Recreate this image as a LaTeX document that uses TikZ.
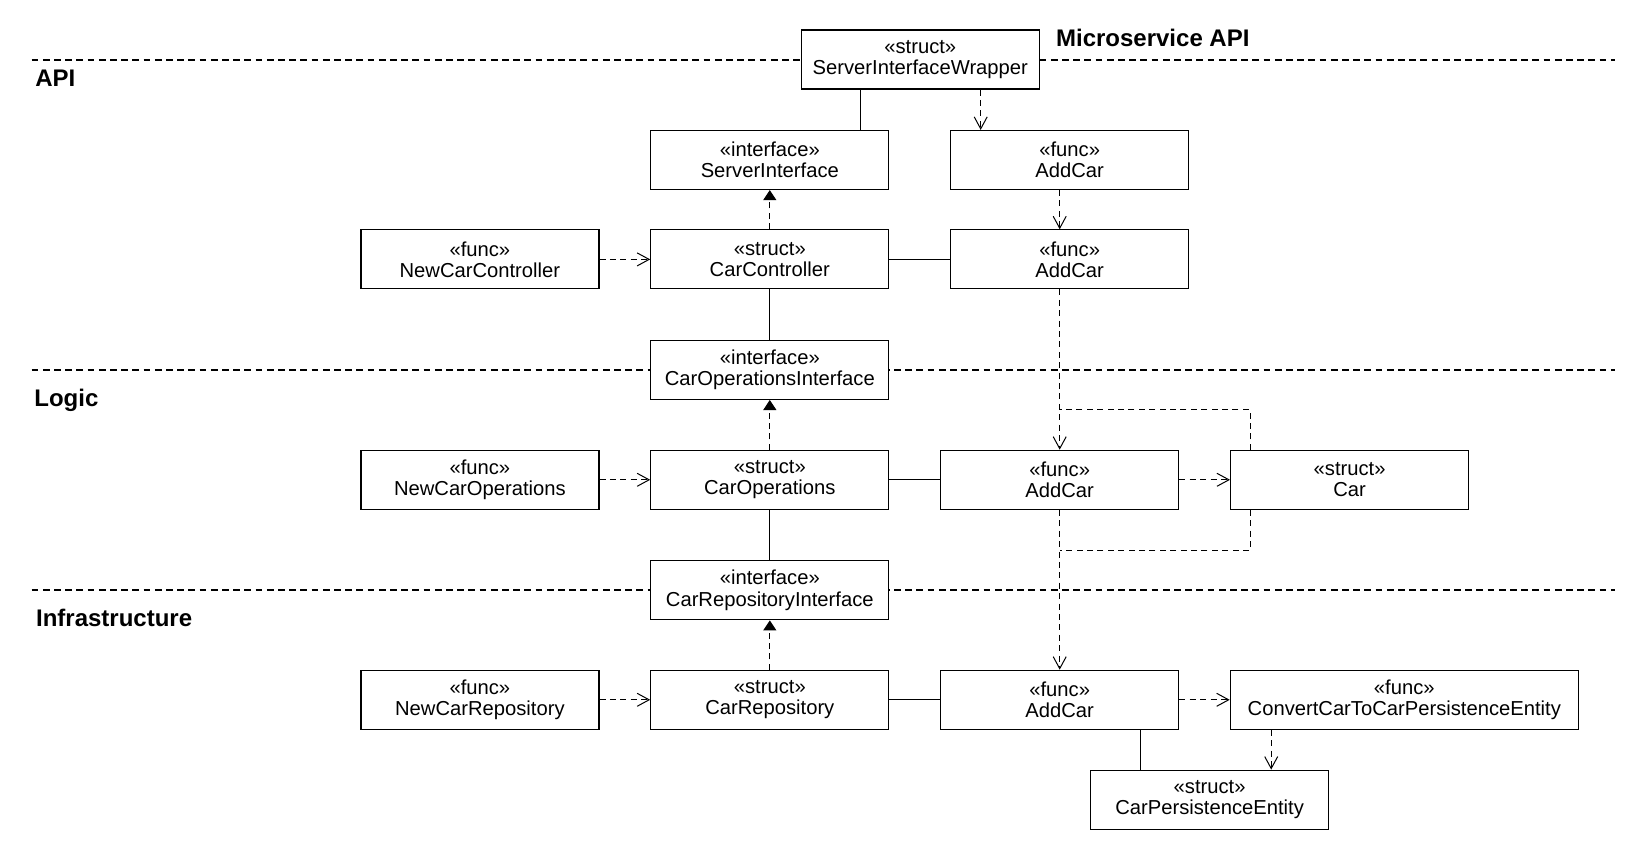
\documentclass[tikz,border=0pt]{standalone}
\usepackage{fontspec}
\setmainfont{Liberation Sans}
\usetikzlibrary{arrows.meta}

\tikzset{
  box/.style={draw, line width=0.6pt, fill=white, minimum width=119pt,
    minimum height=29.5pt, inner sep=0pt, align=center,
    font=\fontsize{10.1}{10.6}\selectfont},
  widebox/.style={box, minimum width=174pt},
  lane/.style={line width=1pt, dash pattern=on 3.4pt off 2.2pt},
  layer/.style={font=\fontsize{12}{14}\selectfont\bfseries, anchor=base west, inner sep=0pt},
  assoc/.style={line width=0.55pt},
  depline/.style={line width=0.5pt, dash pattern=on 3pt off 2.2pt},
  dep/.style={depline, -{Straight Barb[length=6pt,width=6.5pt]}},
  real/.style={depline, -{Triangle[length=5pt,width=6.5pt]}}
}

\begin{document}
\begin{tikzpicture}[x=0.5pt,y=-0.5pt]
\useasboundingbox (0,0) rectangle (1650,850);

% layer separators
\draw[lane] (31.6,60) -- (1615,60);
\draw[lane] (31.6,370.4) -- (1615,370.4);
\draw[lane] (31.6,590.3) -- (1615,590.3);

% layer titles
\node[layer] (tms) at (1055.7,46.7) {Microservice API};
\node[layer] (tapi) at (35,86.7) {API};
\node[layer] (tlogic) at (34,406.7) {Logic};
\node[layer] (tinfra) at (35.7,626.7) {Infrastructure};

% API layer
\node[box] (siw)  at (920.3,59.5)  {«struct»\\ServerInterfaceWrapper};
\node[box] (si)   at (769.8,160)   {«interface»\\ServerInterface};
\node[box] (addA) at (1069.7,160)  {«func»\\AddCar};
\node[box] (ncc)  at (479.9,259.4) {«func»\\NewCarController};
\node[box] (cc)   at (769.8,259.4) {«struct»\\CarController};
\node[box] (addB) at (1069.7,259.4) {«func»\\AddCar};
\node[box] (coi)  at (769.8,369.9) {«interface»\\CarOperationsInterface};

% Logic layer
\node[box] (nco)  at (479.9,479.8) {«func»\\NewCarOperations};
\node[box] (co)   at (769.8,479.8) {«struct»\\CarOperations};
\node[box] (addL) at (1059.7,479.8) {«func»\\AddCar};
\node[box] (car)  at (1349.6,479.8) {«struct»\\Car};
\node[box] (cri)  at (769.8,590.3) {«interface»\\CarRepositoryInterface};

% Infrastructure layer
\node[box] (ncr)  at (479.9,699.8) {«func»\\NewCarRepository};
\node[box] (cr)   at (769.8,699.8) {«struct»\\CarRepository};
\node[box] (addI) at (1059.7,699.8) {«func»\\AddCar};
\node[widebox] (conv) at (1404.3,699.8) {«func»\\ConvertCarToCarPersistenceEntity};
\node[box] (cpe)  at (1209.6,799.7) {«struct»\\CarPersistenceEntity};

% junctions where the Car dependencies meet the AddCar chain
\coordinate (jL) at (addL.north |- 0,409.4);
\coordinate (jI) at (addI.north |- 0,550.4);

% API connectors
\draw[assoc] (860.8,0 |- siw.south) -- (860.8,0 |- si.north);
\draw[dep] (980.7,0 |- siw.south) -- (980.7,0 |- addA.north);
\draw[dep] (1059.7,0 |- addA.south) -- (1059.7,0 |- addB.north);
\draw[real] (cc) -- (si);
\draw[dep] (ncc) -- (cc);
\draw[assoc] (cc) -- (addB);
\draw[assoc] (cc) -- (coi);

% Logic connectors
\draw[dep] (addL.north |- addB.south) -- (addL.north);
\draw[depline] (1250.1,0 |- car.north) |- (jL);
\draw[dep] (addL) -- (car);
\draw[assoc] (co) -- (addL);
\draw[real] (co) -- (coi);
\draw[dep] (nco) -- (co);
\draw[assoc] (co) -- (cri);

% Infrastructure connectors
\draw[dep] (addL) -- (addI);
\draw[depline] (1250.1,0 |- car.south) |- (jI);
\draw[real] (cr) -- (cri);
\draw[dep] (ncr) -- (cr);
\draw[assoc] (cr) -- (addI);
\draw[dep] (addI) -- (conv);
\draw[assoc] (1140.7,0 |- addI.south) -- (1140.7,0 |- cpe.north);
\draw[dep] (1271.2,0 |- conv.south) -- (1271.2,0 |- cpe.north);
\end{tikzpicture}
\end{document}
